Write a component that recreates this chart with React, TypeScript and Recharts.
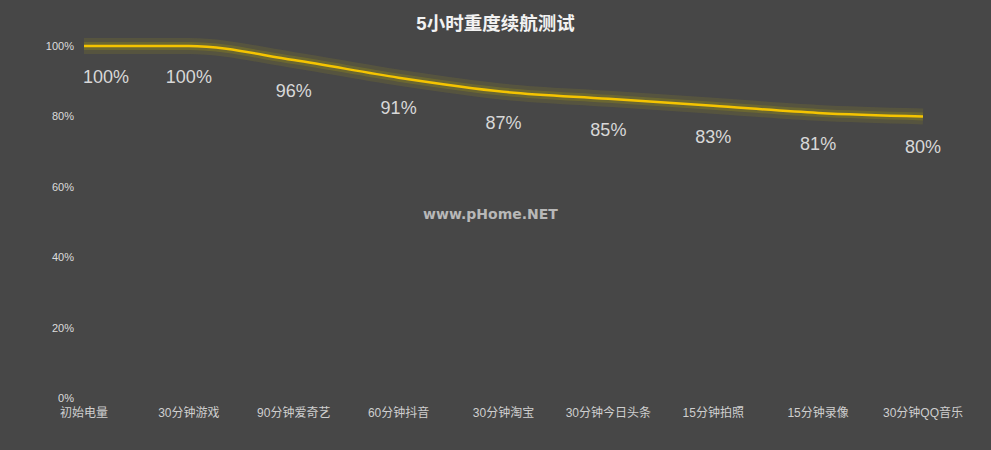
import { LineChart, Line, XAxis, YAxis, LabelList } from "recharts";

const categories = ["初始电量", "30分钟游戏", "90分钟爱奇艺", "60分钟抖音", "30分钟淘宝", "30分钟今日头条", "15分钟拍照", "15分钟录像", "30分钟QQ音乐"];
const battery = [100, 100, 96, 91, 87, 85, 83, 81, 80];
const yTicks = [0, 20, 40, 60, 80, 100];

const data = categories.map((name, i) => ({ name, value: battery[i] }));

const FONT = "'Liberation Sans', 'Noto Sans CJK SC', sans-serif";

const ValueLabel = (props: any) => {
  const { x, y, value, index } = props;
  const dx = index === 0 ? 22 : 0;
  return (
    <text x={x + dx} y={y + 32} textAnchor="middle" dominantBaseline="middle" fill="#d8d8d8" fontSize={18} fontFamily={FONT}>
      {value}%
    </text>
  );
};

const App = () => {
  return (
    <div style={{ position: "fixed", top: 0, left: 0, width: 991, height: 450, background: "#474747" }}>
      <div style={{ position: "absolute", top: 9, left: 0, width: 991, textAlign: "center", color: "#f2f2f2", fontFamily: FONT, fontWeight: 700, fontSize: 18.5 }}>
        5小时重度续航测试
      </div>
      <div style={{ position: "absolute", top: 206, left: 0, width: 981, textAlign: "center", color: "#b8b8b8", fontFamily: "'DejaVu Sans', sans-serif", fontWeight: 700, fontSize: 14 }}>
        www.pHome.NET
      </div>
      <LineChart width={991} height={450} data={data} margin={{ top: 46, right: 68, bottom: 22, left: 0 }}>
        <XAxis
          dataKey="name"
          axisLine={false}
          tickLine={false}
          height={30}
          tickMargin={4}
          interval={0}
          tick={{ fill: "#cfcfcf", fontSize: 12, fontFamily: FONT }}
        />
        <YAxis
          width={84}
          domain={[0, 100]}
          ticks={yTicks}
          axisLine={false}
          tickLine={false}
          tickMargin={4}
          tickFormatter={(v: number) => `${v}%`}
          tick={{ fill: "#dcdcdc", fontSize: 11, fontFamily: FONT }}
        />
        <Line type="monotone" dataKey="value" stroke="#7a7530" strokeOpacity={0.3} strokeWidth={16} dot={false} isAnimationActive={false} />
        <Line type="monotone" dataKey="value" stroke="#8c8420" strokeOpacity={0.4} strokeWidth={8} dot={false} isAnimationActive={false} />
        <Line type="monotone" dataKey="value" stroke="#f5c400" strokeWidth={2.5} dot={false} isAnimationActive={false}>
          <LabelList dataKey="value" content={<ValueLabel />} />
        </Line>
      </LineChart>
    </div>
  );
};

export default App;
